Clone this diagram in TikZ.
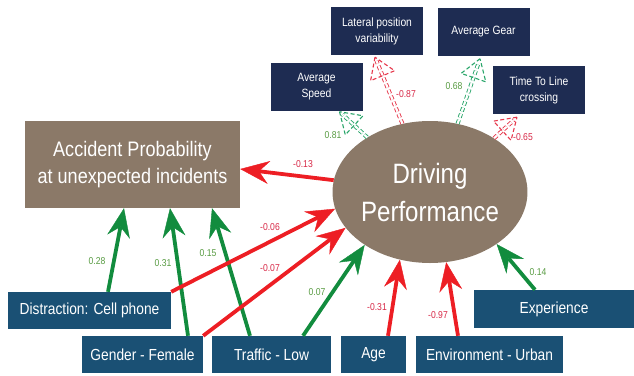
\documentclass[tikz,border=0pt]{standalone}
\usepackage{fontspec}
\setmainfont[FakeStretch=0.86]{Liberation Sans}
\usetikzlibrary{arrows.meta,calc,shapes.geometric}

\definecolor{brownfill}{RGB}{139,121,104}
\definecolor{navy}{RGB}{30,44,82}
\definecolor{steel}{RGB}{26,80,116}
\definecolor{garrow}{RGB}{18,140,62}
\definecolor{rarrow}{RGB}{237,30,36}
\definecolor{glabel}{RGB}{88,155,66}
\definecolor{rlabel}{RGB}{215,40,70}
\definecolor{gdash}{RGB}{40,165,105}
\definecolor{rdash}{RGB}{230,55,75}

\tikzset{
  box/.style={rectangle, inner sep=0pt, align=center, text=white},
  topbox/.style={box, fill=navy, minimum width=92pt, minimum height=48pt,
    font=\fontsize{12}{16}\selectfont},
  basebox/.style={box, fill=steel, minimum height=37pt,
    font=\fontsize{16}{19}\selectfont},
  bigtip/.style={-{Stealth[length=29pt,width=23pt,inset=10pt,line width=0.4pt]}},
  posarrow/.style={draw=garrow, line width=3.8pt, bigtip},
  negarrow/.style={draw=rarrow, line width=3.8pt, bigtip},
  glab/.style={text=glabel, inner sep=0pt, font=\fontsize{10}{12}\selectfont},
  rlab/.style={text=rlabel, inner sep=0pt, font=\fontsize{10}{12}\selectfont},
  dshaft/.style={line width=0.9pt, double=white, double distance=2.2pt,
    dash pattern=on 4pt off 2.5pt},
  dhead/.style={line width=1.1pt, dash pattern=on 4pt off 2.5pt, line join=miter},
}

% dashed double arrow with a dashed open head: colour, start, tip
\newcommand\dasharrow[3]{%
  \coordinate (dhb) at ($(#3)!20pt!(#2)$);
  \coordinate (dhl) at ($(dhb)!13pt!90:(#3)$);
  \coordinate (dhr) at ($(dhb)!13pt!-90:(#3)$);
  \draw[dshaft, draw=#1] (#2) -- ($(#3)!4pt!(#2)$);
  \draw[dhead, draw=#1] (#3) -- (dhl) -- (dhr) -- cycle;
}

\begin{document}
\begin{tikzpicture}[x=1pt,y=-1pt]
\useasboundingbox (0,0) rectangle (634,375);

% outcome and latent construct
\node[box, fill=brownfill, minimum width=215pt, minimum height=87pt,
  font=\fontsize{21}{27}\selectfont] (acc) at (132.5,164.5)
  {Accident Probability\\at unexpected incidents};
\node[ellipse, fill=brownfill, minimum width=180pt, minimum height=142pt,
  inner sep=0pt, align=center, text=white,
  font=\fontsize{28}{38}\selectfont] (drv) at (430,192)
  {Driving\\Performance};

% indicators
\node[topbox] (lat)  at (377,31)   {Lateral position\\variability};
\node[topbox] (gear) at (483.5,31.5) {Average Gear};
\node[topbox] (spd)  at (316.5,86.5) {Average\\Speed};
\node[topbox] (ttl)  at (539,90)   {Time To Line\\crossing};

% predictors
\node[basebox, minimum width=163pt] (dis) at (89.5,310.5) {Distraction: Cell phone};
\node[basebox, minimum width=121pt] (gen) at (142.5,354.5) {Gender - Female};
\node[basebox, minimum width=119pt] (tra) at (271.5,354.5) {Traffic - Low};
\node[basebox, minimum width=65pt]  (age) at (373.5,354.5) {Age};
\node[basebox, minimum width=147pt] (env) at (489.5,354.5) {Environment - Urban};
\node[basebox, minimum width=160pt, minimum height=38pt] (exp) at (554,309) {Experience};

% positive effects
\draw[posarrow] ($(dis.north)+(18.5,0)$) -- ($(acc.south)+(-8.5,0)$);
\draw[posarrow] ($(gen.north)+(45.5,0)$) -- ($(acc.south)+(37.5,0)$);
\draw[posarrow] ($(tra.north)+(-21.5,0)$) -- ($(acc.south)+(79.5,0)$);
\draw[posarrow] ($(tra.north)+(31.5,0)$) -- (drv.219.5);
\draw[posarrow] ($(exp.north)+(-19,0)$) -- (drv.322.7);

% negative effects
\draw[negarrow] (dis.north east) -- (drv.190);
\draw[negarrow] (gen.north east) -- (drv.203.6);
\draw[negarrow] ($(age.north)+(14.5,0)$) -- (drv.246);
\draw[negarrow] ($(env.north)+(-31.5,0)$) -- (drv.283);
\draw[negarrow] (drv.173) -- ($(acc.east)+(0,4.5)$);

% loadings of the latent construct
\coordinate (spdtip)  at ($(spd.south)+(23,1)$);
\coordinate (lattip)  at ($(lat.south)+(-2,2)$);
\coordinate (geartip) at ($(gear.south)+(-3.5,3)$);
\coordinate (ttltip)  at ($(ttl.south)+(-22,3)$);
\dasharrow{gdash}{drv.139}{spdtip}
\dasharrow{rdash}{drv.112}{lattip}
\dasharrow{gdash}{drv.68}{geartip}
\dasharrow{rdash}{drv.40}{ttltip}

% coefficients
\node[rlab] (c13) at (303,164) {-0.13};
\node[rlab] (c06) at (270,227) {-0.06};
\node[rlab] (c07) at (270,268) {-0.07};
\node[glab] (c28) at (97,261)  {0.28};
\node[glab] (c31) at (163,263) {0.31};
\node[glab] (c15) at (208,253) {0.15};
\node[glab] (c07g) at (317,292) {0.07};
\node[rlab] (c31r) at (377,307) {-0.31};
\node[rlab] (c97) at (438,315) {-0.97};
\node[glab] (c14) at (538,272) {0.14};
\node[glab] (c81) at (333,135) {0.81};
\node[rlab] (c87) at (406,94)  {-0.87};
\node[glab] (c68) at (454,86)  {0.68};
\node[rlab] (c65) at (523,137) {-0.65};
\end{tikzpicture}
\end{document}
